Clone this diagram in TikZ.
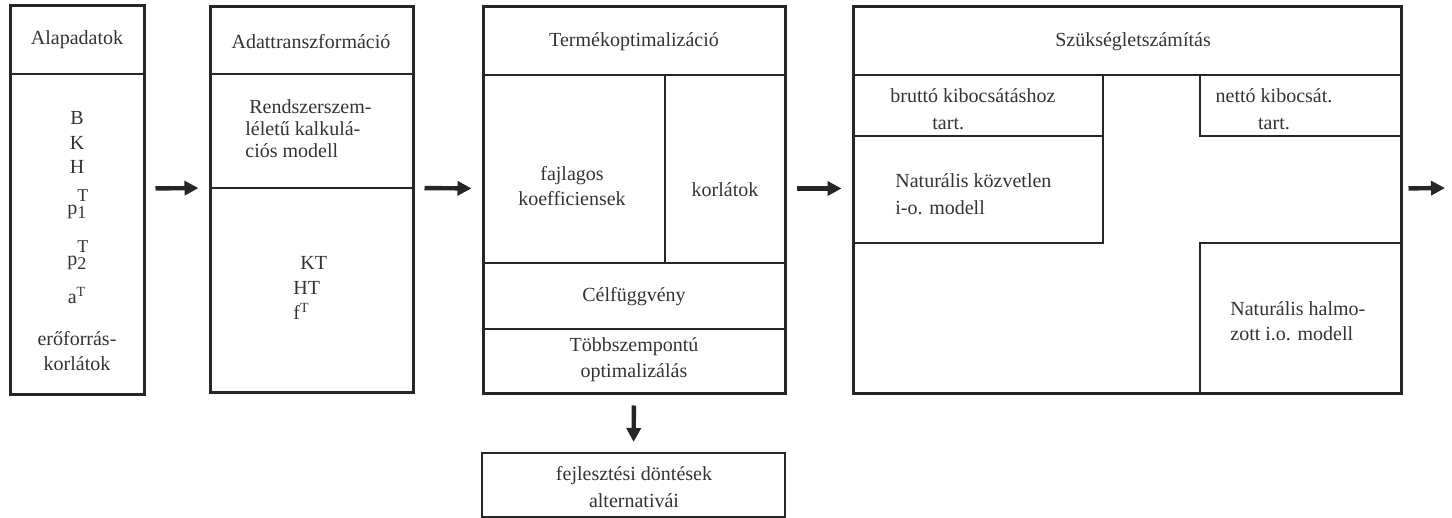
\documentclass[tikz,border=0pt]{standalone}
\usepackage{fontspec}
\setmainfont{Liberation Serif}
\usetikzlibrary{arrows.meta,fit}

% p with subscript and raised T
\newcommand{\pidx}[1]{p\rlap{\raisebox{6.5pt}{\small T}}\raisebox{-2pt}{\small #1}}

\begin{document}
\begin{tikzpicture}[x=0.5pt,y=-0.5pt]
	\tikzset{box/.style={draw=black!85, line width=1.5pt, inner sep=0pt},
		cell/.style={draw=black!85, line width=0.8pt},
		lbl/.style={text=black!80, inner sep=0pt, align=center,
			font=\fontsize{10}{12.5}\selectfont},
		arr/.style={draw=black!85, line width=2.2pt,
			-{Triangle[length=7pt,width=7pt]}, shorten <=5pt, shorten >=5pt}};

	\useasboundingbox (0,0) rectangle (1452,518);

	% outer frames
	\node[box, fit={(10,6) (144,395)}] (alap) {};
	\node[box, fit={(210,7) (413,393)}] (adat) {};
	\node[box, fit={(483,7) (785,394)}] (termek) {};
	\node[box, fit={(853,7) (1401,394)}] (szukseglet) {};
	\node[box, line width=1pt, fit={(482,453) (785,517)}] (fejl) {};
	\coordinate (kimenet) at (1445,188);

	% inner cells
	\draw[cell] (10,74) -- (144,74);

	\draw[cell] (210,74) -- (413,74);
	\draw[cell] (210,188) -- (413,188);

	\draw[cell] (483,75) -- (785,75);
	\draw[cell] (665,75) -- (665,263);
	\draw[cell] (483,263) -- (785,263);
	\draw[cell] (483,329) -- (785,329);

	\draw[cell] (853,75) -- (1401,75);
	\draw[cell] (853,136) -- (1103,136);
	\draw[cell] (1103,75) -- (1103,243) -- (853,243);
	\draw[cell] (1200,75) -- (1200,136) -- (1401,136);
	\draw[cell] (1401,243) -- (1200,243) -- (1200,394);

	% texts
	\node[lbl] (alapcim) at (77,40) {Alapadatok};
	\node[lbl, anchor=north] (alapjel) at (77,111)
		{B\\K\\[-0.5pt]H\\[8pt]\pidx{1}\\[10pt]\pidx{2}\\[6.5pt]a\textsuperscript{T}};
	\node[lbl] (alapkorl) at (77,351) {erőforrás-\\korlátok};

	\node[lbl] (adatcim) at (311,42) {Adattranszformáció};
	\node[lbl, align=left, anchor=west, font=\fontsize{10}{11}\selectfont] (adatmod) at (245,129)
		{\hspace*{2pt}Rendszerszem-\\léletű kalkulá-\\ciós modell};
	\node[lbl, align=left, anchor=west] (adatjel) at (293,288)
		{\hspace*{3.5pt}KT\\HT\\f\textsuperscript{T}};

	\node[lbl] (termcim) at (634,42) {Termékoptimalizáció};
	\node[lbl] (fajl) at (572,186) {fajlagos\\koefficiensek};
	\node[lbl] (korl) at (725,190) {korlátok};
	\node[lbl] (cel) at (634,297) {Célfüggvény};
	\node[lbl, font=\fontsize{10}{13}\selectfont] (tobb) at (634,360) {Többszempontú\\optimalizálás};

	\node[lbl] (szukcim) at (1133,42) {Szükségletszámítás};
	\node[lbl, align=left, anchor=west, font=\fontsize{10}{13.5}\selectfont] (brutto) at (890,109)
		{bruttó kibocsátáshoz\\\hspace*{21pt}tart.};
	\node[lbl, align=left, anchor=west, font=\fontsize{10}{13.5}\selectfont] (kozv) at (895,194)
		{Naturális közvetlen\\i-o. modell};
	\node[lbl, font=\fontsize{10}{13.5}\selectfont] (netto) at (1274,109) {nettó kibocsát.\\tart.};
	\node[lbl, align=left, anchor=west] (halm) at (1230,321)
		{Naturális halmo-\\zott i.o. modell};

	\node[lbl, font=\fontsize{10}{13.5}\selectfont] (fejlszov) at (634,487)
		{fejlesztési döntések\\alternativái};

	% arrows
	\draw[arr] ([yshift=6pt]alap.east) -- ([yshift=6pt]adat.west);
	\draw[arr] ([yshift=6pt]adat.east) -- ([yshift=6pt]termek.west);
	\draw[arr] ([yshift=6pt]termek.east) -- ([yshift=6pt]szukseglet.west);
	\draw[arr, shorten >=0pt, shorten <=3pt] ([yshift=6pt]szukseglet.east) -- (kimenet);
	\draw[arr] (termek.south) -- (fejl.north);
\end{tikzpicture}
\end{document}
